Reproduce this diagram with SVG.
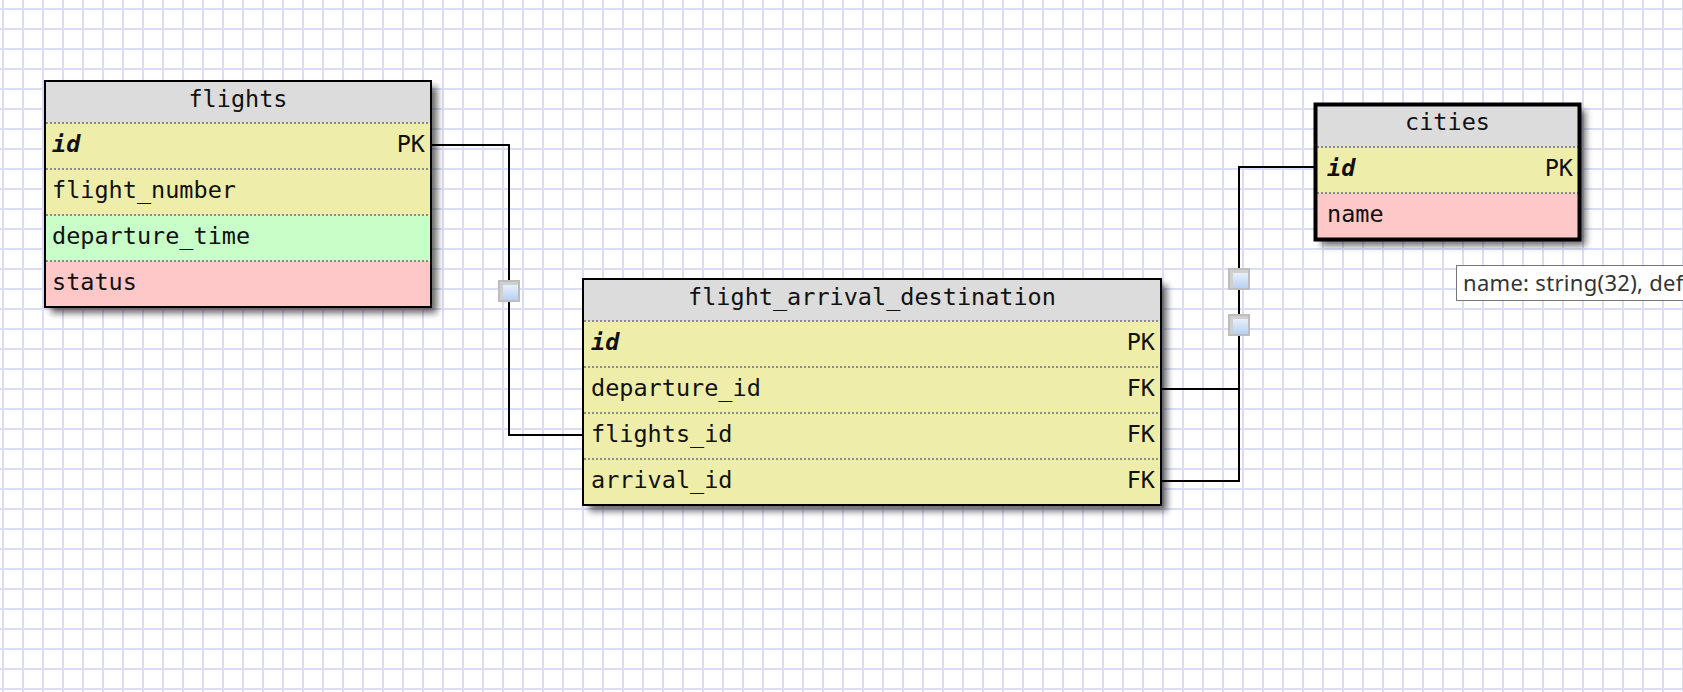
<svg xmlns="http://www.w3.org/2000/svg" width="1683" height="692" viewBox="0 0 1683 692">
  <defs>
    <pattern id="grid" x="0" y="0" width="20" height="20" patternUnits="userSpaceOnUse">
      <rect width="20" height="20" fill="#ffffff"/>
      <rect x="2" y="0" width="2" height="20" fill="#dcdcf5"/>
      <rect x="0" y="8" width="20" height="2" fill="#dcdcf5"/>
    </pattern>
    <filter id="shadow" x="-10%" y="-10%" width="130%" height="130%">
      <feDropShadow dx="6" dy="6" stdDeviation="3.5" flood-color="#000" flood-opacity="0.6"/>
    </filter>
    <linearGradient id="mk" x1="0" y1="0" x2="0" y2="1">
      <stop offset="0" stop-color="#e8f0fb"/>
      <stop offset="1" stop-color="#b9d0f0"/>
    </linearGradient>
  </defs>
  <style>
    .t { font-family: "DejaVu Sans Mono", "Liberation Mono", monospace; font-size: 23.5px; fill: #111; }
    .c { text-anchor: middle; }
    .e { text-anchor: end; }
    .k { font-weight: bold; font-style: italic; }
    .hd { fill: #dcdcdc; }
    .y { fill: #eeeeaa; }
    .g { fill: #c8ffc8; }
    .p { fill: #ffc8c8; }
    .sep { stroke: #8a8a8a; stroke-width: 2; stroke-dasharray: 2 2; }
    .box { fill: none; stroke: #000; stroke-width: 2; }
    .link { fill: none; stroke: #000; stroke-width: 2; }
    .mko { fill: #d0d0d0; stroke: #bdbdbd; stroke-width: 2; }
    .mki { fill: url(#mk); }
    .tip { font-family: "Noto Sans", "Open Sans", "Liberation Sans", sans-serif; font-size: 22px; letter-spacing: 0.3px; fill: #333; }
  </style>

  <rect width="1683" height="692" fill="url(#grid)"/>

  <g id="connectors">
    <path class="link" d="M431,145 H509 V435 H583"/>
    <path class="link" d="M1315,167 H1239 V481 H1161"/>
    <path class="link" d="M1161,389 H1239"/>
    <g id="marker-1">
      <rect class="mko" x="499" y="281" width="20" height="20"/>
      <rect class="mki" x="503" y="285" width="15" height="15"/>
    </g>
    <g id="marker-2">
      <rect class="mko" x="1229" y="269" width="20" height="20"/>
      <rect class="mki" x="1233" y="273" width="15" height="15"/>
    </g>
    <g id="marker-3">
      <rect class="mko" x="1229" y="315" width="20" height="20"/>
      <rect class="mki" x="1233" y="319" width="15" height="15"/>
    </g>
  </g>

  <g id="flights">
    <g filter="url(#shadow)">
      <rect x="45" y="81" width="386" height="226" fill="#eeeeaa"/>
    </g>
    <rect class="hd" x="45" y="81" width="386" height="42"/>
    <rect class="y" x="45" y="123" width="386" height="92"/>
    <rect class="g" x="45" y="215" width="386" height="46"/>
    <rect class="p" x="45" y="261" width="386" height="46"/>
    <line class="sep" x1="46" y1="123" x2="430" y2="123"/>
    <line class="sep" x1="46" y1="169" x2="430" y2="169"/>
    <line class="sep" x1="46" y1="215" x2="430" y2="215"/>
    <line class="sep" x1="46" y1="261" x2="430" y2="261"/>
    <rect class="box" x="45" y="81" width="386" height="226"/>
    <text class="t c" x="238" y="107">flights</text>
    <text class="t k" x="52" y="152">id</text>
    <text class="t e" x="425" y="152">PK</text>
    <text class="t" x="52" y="198">flight_number</text>
    <text class="t" x="52" y="244">departure_time</text>
    <text class="t" x="52" y="290">status</text>
  </g>

  <g id="flight_arrival_destination">
    <g filter="url(#shadow)">
      <rect x="583" y="279" width="578" height="226" fill="#eeeeaa"/>
    </g>
    <rect class="hd" x="583" y="279" width="578" height="42"/>
    <rect class="y" x="583" y="321" width="578" height="184"/>
    <line class="sep" x1="584" y1="321" x2="1160" y2="321"/>
    <line class="sep" x1="584" y1="367" x2="1160" y2="367"/>
    <line class="sep" x1="584" y1="413" x2="1160" y2="413"/>
    <line class="sep" x1="584" y1="459" x2="1160" y2="459"/>
    <rect class="box" x="583" y="279" width="578" height="226"/>
    <text class="t c" x="872" y="305">flight_arrival_destination</text>
    <text class="t k" x="591" y="350">id</text>
    <text class="t e" x="1155" y="350">PK</text>
    <text class="t" x="591" y="396">departure_id</text>
    <text class="t e" x="1155" y="396">FK</text>
    <text class="t" x="591" y="442">flights_id</text>
    <text class="t e" x="1155" y="442">FK</text>
    <text class="t" x="591" y="488">arrival_id</text>
    <text class="t e" x="1155" y="488">FK</text>
  </g>

  <g id="cities">
    <g filter="url(#shadow)">
      <rect x="1315.5" y="104.5" width="264" height="135" fill="#eeeeaa"/>
    </g>
    <rect class="hd" x="1315.5" y="104.5" width="264" height="43"/>
    <rect class="y" x="1315.5" y="147" width="264" height="46"/>
    <rect class="p" x="1315.5" y="193" width="264" height="46.5"/>
    <line class="sep" x1="1317" y1="147" x2="1578" y2="147"/>
    <line class="sep" x1="1317" y1="193" x2="1578" y2="193"/>
    <rect class="box" x="1315.5" y="104.5" width="264" height="135" style="stroke-width:4"/>
    <text class="t c" x="1447.5" y="130">cities</text>
    <text class="t k" x="1327" y="176">id</text>
    <text class="t e" x="1573" y="176">PK</text>
    <text class="t" x="1327" y="222">name</text>
  </g>

  <g id="tooltip">
    <rect x="1456.5" y="265.5" width="240" height="35" fill="#ffffff" stroke="#767676" stroke-width="1"/>
    <text class="tip" x="1463" y="291">name: string(32), defa</text>
  </g>
</svg>
